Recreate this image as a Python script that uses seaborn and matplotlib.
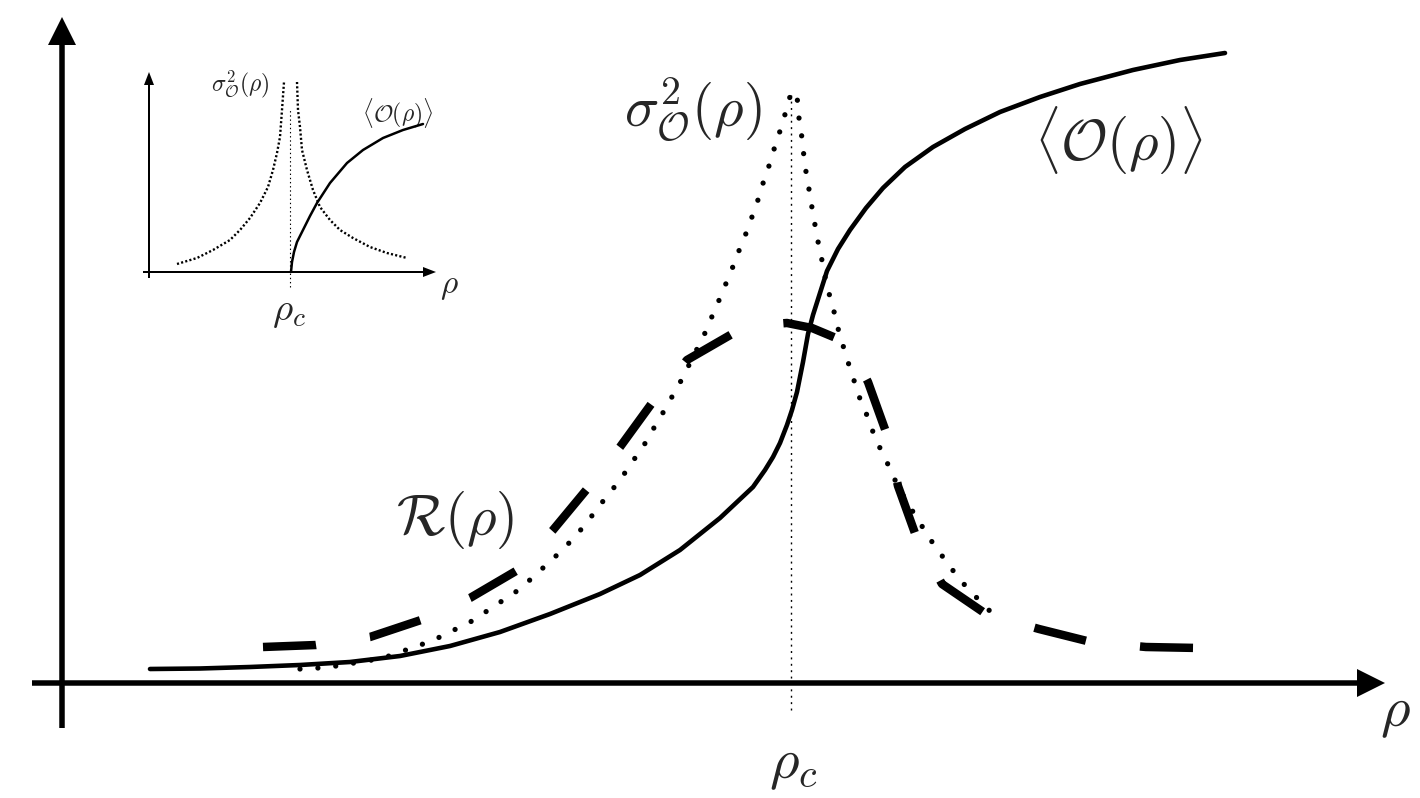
import matplotlib
matplotlib.use("Agg")
import matplotlib.pyplot as plt
import seaborn as sns

# Schematic: critical behaviour of an observable around rho_c
# values (arbitrary units)

rho_c = 7.29

# <O(rho)> : smooth crossover (finite system)
order_rho = [0.88, 1.38, 1.88, 2.38, 2.88, 3.38, 3.88, 4.38, 4.88, 5.38, 5.78, 6.18, 6.58,
             6.91, 7.03, 7.11, 7.18, 7.25, 7.30, 7.35, 7.41, 7.46, 7.51, 7.58, 7.65, 7.76,
             7.88, 8.04, 8.21, 8.43, 8.71, 9.03, 9.38, 9.78, 10.18, 10.71, 11.18, 11.63]
order_val = [0.14, 0.145, 0.16, 0.18, 0.21, 0.27, 0.37, 0.51, 0.69, 0.89, 1.08, 1.33, 1.65,
             1.96, 2.13, 2.26, 2.40, 2.58, 2.73, 2.91, 3.21, 3.49, 3.68, 3.90, 4.12, 4.34,
             4.53, 4.75, 4.95, 5.16, 5.36, 5.54, 5.71, 5.86, 5.99, 6.13, 6.23, 6.30]

# sigma^2_O(rho) : peaked variance
var_rho = [2.38, 2.56, 2.74, 2.92, 3.10, 3.27, 3.61, 3.78, 3.94, 4.10, 4.25, 4.40, 4.55,
           4.69, 4.82, 4.95, 5.08, 5.23, 5.38, 5.58, 5.84, 5.93, 6.02, 6.11, 6.20, 6.36,
           6.44, 6.51, 6.58, 6.65, 6.72, 6.78, 6.85, 6.91, 6.97, 7.02, 7.08, 7.13, 7.19,
           7.24, 7.29, 7.35, 7.36, 7.39, 7.41, 7.43, 7.46, 7.49, 7.52, 7.55, 7.59, 7.62,
           7.66, 7.71, 7.75, 7.80, 7.85, 7.91, 7.96, 8.03, 8.09, 8.16, 8.24, 8.31, 8.39,
           8.48, 8.58, 8.68, 8.78, 8.89, 9.00, 9.12, 9.25, 9.37]
var_val = [0.14, 0.15, 0.17, 0.20, 0.23, 0.27, 0.39, 0.46, 0.54, 0.62, 0.72, 0.82, 0.92,
           1.04, 1.16, 1.28, 1.41, 1.58, 1.78, 2.03, 2.41, 2.57, 2.72, 2.88, 3.04, 3.36,
           3.52, 3.69, 3.85, 4.02, 4.19, 4.35, 4.52, 4.69, 4.86, 5.03, 5.20, 5.37, 5.55,
           5.72, 5.90, 5.90, 5.71, 5.53, 5.35, 5.17, 5.00, 4.81, 4.64, 4.46, 4.28, 4.11,
           3.93, 3.76, 3.58, 3.41, 3.24, 3.06, 2.89, 2.73, 2.56, 2.39, 2.23, 2.07, 1.91,
           1.76, 1.60, 1.44, 1.30, 1.15, 1.01, 0.88, 0.75, 0.62]

# R(rho)
resp_rho = [2.01, 2.54, 3.08, 3.59, 4.08, 4.54, 4.91, 5.25, 5.58, 5.90, 6.25, 6.70, 6.98,
            7.25, 7.50, 7.74, 7.93, 8.06, 8.24, 8.36, 8.54, 8.80, 9.24, 9.77, 10.29, 10.84, 11.37]
resp_val = [0.36, 0.38, 0.46, 0.63, 0.85, 1.12, 1.53, 1.94, 2.36, 2.80, 3.23, 3.49, 3.58,
            3.60, 3.55, 3.45, 3.26, 3.01, 2.51, 1.97, 1.47, 0.99, 0.69, 0.54, 0.41, 0.36, 0.35]

# inset: thermodynamic limit
in_rho_c = 1.41
in_order_rho = [1.42, 1.43, 1.45, 1.48, 1.54, 1.61, 1.68, 1.81, 1.98, 2.14, 2.34, 2.54, 2.74]
in_order_val = [0.00, 0.10, 0.20, 0.30, 0.42, 0.56, 0.69, 0.89, 1.09, 1.22, 1.34, 1.42, 1.48]
in_var_left_rho = [0.28, 0.48, 0.64, 0.81, 0.91, 1.01, 1.11, 1.19, 1.24, 1.28, 1.31, 1.33, 1.35]
in_var_left_val = [0.08, 0.14, 0.22, 0.32, 0.42, 0.54, 0.69, 0.85, 1.02, 1.19, 1.35, 1.62, 1.90]
in_var_right_rho = [1.48, 1.49, 1.51, 1.53, 1.58, 1.64, 1.71, 1.81, 1.91, 2.04, 2.21, 2.38, 2.58]
in_var_right_val = [1.90, 1.62, 1.45, 1.22, 1.02, 0.82, 0.65, 0.52, 0.42, 0.34, 0.25, 0.19, 0.14]

sns.set_style("white")
plt.rcParams["mathtext.fontset"] = "cm"
plt.rcParams["lines.scale_dashes"] = False

fig = plt.figure(figsize=(14.2, 7.98), dpi=100)
ax = fig.add_axes([0, 0, 1, 1])

# axes with arrow heads
ax.arrow(-0.30, 0, 13.53, 0, width=0.055, head_width=0.28, head_length=0.28,
         length_includes_head=True, fc="k", ec="none", zorder=3)
ax.arrow(0, -0.45, 0, 7.11, width=0.055, head_width=0.28, head_length=0.28,
         length_includes_head=True, fc="k", ec="none", zorder=3)
ax.plot([rho_c, rho_c], [-0.27, 5.88], color="k", lw=1.0,
        linestyle=(0, (1.4, 3.2)), zorder=1)

sns.lineplot(x=resp_rho, y=resp_val, ax=ax, color="k", linewidth=6.1, estimator=None,
             sort=False, linestyle=(0, (38.2, 39.2)), dash_capstyle="butt", zorder=2)
sns.lineplot(x=var_rho, y=var_val, ax=ax, color="k", linewidth=3.8, estimator=None,
             sort=False, linestyle=(0, (0.01, 12.9)), dash_capstyle="round", zorder=2)
sns.lineplot(x=order_rho, y=order_val, ax=ax, color="k", linewidth=3.3, estimator=None,
             sort=False, zorder=4, solid_joinstyle="round")

fs = 41
ax.text(6.31, 5.73, r"$\sigma^2_{\mathcal{O}}(\rho)$", fontsize=fs, ha="center", va="center")
ax.text(10.57, 5.42, r"$\langle\mathcal{O}(\rho)\rangle$", fontsize=fs, ha="center", va="center")
ax.text(3.93, 1.63, r"$\mathcal{R}(\rho)$", fontsize=fs, ha="center", va="center")
ax.text(13.33, -0.29, r"$\rho$", fontsize=fs, ha="center", va="center")
ax.text(7.31, -0.82, r"$\rho_c$", fontsize=fs, ha="center", va="center")

ax.set_xlim(-0.62, 13.58)
ax.set_ylim(-1.15, 6.83)
ax.set_axis_off()

# inset
axi = fig.add_axes([100 / 1420, (798 - 340) / 798, 380 / 1420, 300 / 798])
axi.arrow(-0.06, 0, 2.93, 0, width=0.02, head_width=0.10, head_length=0.13,
          length_includes_head=True, fc="k", ec="none", zorder=3)
axi.arrow(0, -0.06, 0, 2.06, width=0.02, head_width=0.10, head_length=0.13,
          length_includes_head=True, fc="k", ec="none", zorder=3)
axi.plot([in_rho_c, in_rho_c], [-0.15, 1.64], color="k", lw=0.8,
         linestyle=(0, (1.0, 2.0)), zorder=1)
for xs, ys in [(in_var_left_rho, in_var_left_val), (in_var_right_rho, in_var_right_val)]:
    sns.lineplot(x=xs, y=ys, ax=axi, color="k", linewidth=1.7, estimator=None,
                 sort=False, linestyle=(0, (1.5, 1.6)), dash_capstyle="butt", zorder=2)
sns.lineplot(x=in_order_rho, y=in_order_val, ax=axi, color="k", linewidth=1.8,
             estimator=None, sort=False, zorder=4, solid_joinstyle="round")

axi.text(0.91, 1.88, r"$\sigma^2_{\mathcal{O}}(\rho)$", fontsize=17, ha="center", va="center")
axi.text(2.49, 1.59, r"$\langle\mathcal{O}(\rho)\rangle$", fontsize=17, ha="center", va="center")
axi.text(3.00, -0.13, r"$\rho$", fontsize=24, ha="center", va="center")
axi.text(1.40, -0.39, r"$\rho_c$", fontsize=28, ha="center", va="center")

axi.set_xlim(-0.49, 3.31)
axi.set_ylim(-0.68, 2.32)
axi.set_axis_off()

fig.savefig("out.png", dpi=100)
